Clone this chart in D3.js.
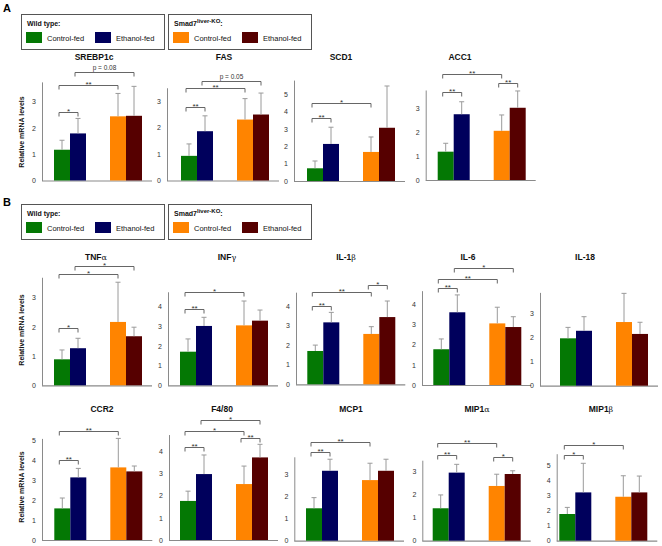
<!DOCTYPE html>
<html>
<head>
<meta charset="utf-8">
<script src="https://cdn.jsdelivr.net/npm/d3@7"></script>
<style>
  body { margin: 0; background: #fff; }
  text { font-family: "Liberation Sans", Arial, sans-serif; }
</style>
</head>
<body>
<script>
// genes, in drawing order (panel A: 4, panel B: 10)
const genes = ["SREBP1c", "FAS", "SCD1", "ACC1",
  "TNFα", "INFγ", "IL-1β", "IL-6", "IL-18",
  "CCR2", "F4/80", "MCP1", "MIP1α", "MIP1β"];

// bar order: WT control, WT ethanol, KO control, KO ethanol
const means = [
  [1.17, 1.79, 2.44, 2.46],
  [0.93, 1.86, 2.30, 2.49],
  [0.73, 2.13, 1.67, 3.06],
  [1.18, 2.74, 2.05, 3.01],
  [0.89, 1.27, 2.17, 1.68],
  [1.71, 3.02, 3.05, 3.29],
  [1.70, 3.16, 2.57, 3.43],
  [1.77, 3.60, 3.05, 2.87],
  [1.95, 2.26, 2.62, 2.13],
  [1.58, 3.13, 3.63, 3.43],
  [1.76, 2.97, 2.52, 3.72],
  [1.46, 3.15, 2.73, 3.15],
  [1.41, 2.96, 2.38, 2.90],
  [1.78, 3.22, 2.93, 3.22]
];
const sds = [
  [0.36, 0.57, 0.87, 1.12],
  [0.45, 0.58, 0.79, 0.81],
  [0.42, 0.96, 0.86, 2.40],
  [0.35, 0.52, 0.66, 0.70],
  [0.32, 0.34, 1.36, 0.31],
  [0.65, 0.44, 1.24, 0.54],
  [0.30, 0.51, 0.37, 0.82],
  [0.51, 0.86, 0.80, 0.51],
  [0.45, 0.58, 1.18, 0.48],
  [0.52, 0.45, 1.45, 0.27],
  [0.44, 0.86, 0.81, 0.59],
  [0.48, 0.52, 0.76, 0.52],
  [0.58, 0.36, 0.51, 0.14],
  [0.44, 1.94, 1.40, 1.09]
];
// y axis extent of every small chart
const yMax = [3.75, 3.5, 5.8, 3.75, 3.7, 4.76, 4.7, 4.67, 3.84, 5.08, 4.75, 3.78, 3.5, 5.8];

// significance brackets: [from bar, to bar, label, height in y units]
const brackets = [
  [[0, 1, "*", 2.62], [0, 2, "**", 3.63], [1, 3, "p = 0.08", 4.13]],
  [[0, 1, "**", 2.78], [0, 2, "**", 3.5], [1, 3, "p = 0.05", 3.75]],
  [[0, 1, "**", 3.64], [0, 2, "*", 4.47]],
  [[0, 1, "**", 3.68], [0, 2, "**", 4.4], [2, 3, "**", 4.03]],
  [[0, 1, "*", 1.95], [0, 2, "*", 3.8], [1, 3, "*", 4.09]],
  [[0, 1, "**", 3.87], [0, 2, "*", 4.73]],
  [[0, 1, "**", 4.01], [0, 2, "**", 4.69], [2, 3, "*", 5.05]],
  [[0, 1, "**", 4.79], [0, 2, "**", 5.25], [1, 3, "*", 5.78]],
  [],
  [[0, 1, "**", 4.0], [0, 2, "**", 5.45]],
  [[0, 1, "**", 4.18], [0, 2, "*", 4.91], [1, 3, "*", 5.41], [2, 3, "**", 4.61]],
  [[0, 1, "**", 3.98], [0, 2, "**", 4.46]],
  [[0, 1, "**", 3.73], [0, 2, "**", 4.26], [2, 3, "*", 3.65]],
  [[0, 1, "*", 5.71], [0, 2, "*", 6.38]]
];

const legendLabels = ["Control-fed", "Ethanol-fed", "Control-fed", "Ethanol-fed"];
const colors = ["#047804", "#00005c", "#ff8400", "#560000"];

// where each small chart sits on the page
const layout = [
  {ax: 42, bx: 54, base: 180.5, unit: 26.3, tx: 94, ty: 60},
  {ax: 167, bx: 181, base: 180.5, unit: 26.5, tx: 224, ty: 60},
  {ax: 294, bx: 307, base: 181, unit: 17.4, tx: 341, ty: 60},
  {ax: 425.7, bx: 437.7, base: 180, unit: 24, tx: 460, ty: 60},
  {ax: 42, bx: 54, base: 385.3, unit: 29.2, tx: 96, ty: 260},
  {ax: 168, bx: 180, base: 385.3, unit: 19.65, tx: 227, ty: 260},
  {ax: 296, bx: 307.3, base: 384.3, unit: 19.6, tx: 346, ty: 260},
  {ax: 422, bx: 433.3, base: 385, unit: 20.2, tx: 468, ty: 260},
  {ax: 540, bx: 560, base: 385.7, unit: 24.3, tx: 585, ty: 260},
  {ax: 42, bx: 54.3, base: 540, unit: 20, tx: 102, ty: 412},
  {ax: 169, bx: 180, base: 540, unit: 22.2, tx: 222, ty: 412},
  {ax: 294.3, bx: 306, base: 540.7, unit: 22.2, tx: 351, ty: 412},
  {ax: 422.3, bx: 432.7, base: 540.7, unit: 23, tx: 477, ty: 412},
  {ax: 556.7, bx: 559.3, base: 540.7, unit: 15, tx: 601, ty: 412}
];
const barPos = [0, 1, 3.5, 4.5];

const svg = d3.select("body").append("svg")
  .attr("width", 662).attr("height", 546);

// panel letters
svg.append("text").attr("x", 3).attr("y", 12).attr("font-size", 11).attr("font-weight", "bold").text("A");
svg.append("text").attr("x", 3).attr("y", 206).attr("font-size", 11).attr("font-weight", "bold").text("B");

// legends
function legend(top) {
  const g = svg.append("g").attr("transform", "translate(0," + top + ")");
  [21, 168].forEach((bx, b) => {
    g.append("rect").attr("x", bx + 0.5).attr("y", 0.5).attr("width", 143).attr("height", 35)
      .attr("fill", "#fff").attr("stroke", "#555");
    const head = g.append("text").attr("x", bx + 6).attr("y", 12).attr("font-size", 7)
      .attr("font-weight", "bold").attr("fill", "#111");
    if (b === 0) head.text("Wild type:");
    else {
      head.append("tspan").text("Smad7");
      head.append("tspan").attr("dy", -3).attr("font-size", 6).text("liver-KO");
      head.append("tspan").attr("dy", 3).text(":");
    }
    [0, 1].forEach(k => {
      const i = b * 2 + k;
      const sx = bx + 5 + k * 69;
      g.append("rect").attr("x", sx).attr("y", 18).attr("width", 16).attr("height", 11)
        .attr("fill", colors[i]);
      g.append("text").attr("x", sx + 21).attr("y", 26.5).attr("font-size", 7.5)
        .attr("fill", "#111").text(legendLabels[i]);
    });
  });
}
legend(14);
legend(204);

// y axis titles
[132, 330, 487].forEach(cy => {
  svg.append("text").attr("transform", "translate(24," + cy + ") rotate(-90)")
    .attr("text-anchor", "middle").attr("font-size", 7).attr("font-weight", "bold")
    .attr("fill", "#111").text("Relative mRNA levels");
});

genes.forEach((name, gi) => {
  const L = layout[gi];
  const g = svg.append("g");
  const y = d3.scaleLinear().domain([0, yMax[gi]]).range([L.base, L.base - yMax[gi] * L.unit]);
  const x = d3.scaleLinear().domain([-0.75, 6.125]).range([L.bx - 12, L.bx + 98]);
  const bw = x(1) - x(0);

  // title, greek suffix in plain weight
  const t = g.append("text").attr("x", L.tx).attr("y", L.ty).attr("text-anchor", "middle")
    .attr("font-size", 8.5).attr("fill", "#111");
  const last = name.slice(-1);
  if (/[αβγ]/.test(last)) {
    t.append("tspan").attr("font-weight", "bold").text(name.slice(0, -1));
    t.append("tspan").attr("font-family", "DejaVu Serif").attr("font-size", 8).text(last);
  } else {
    t.attr("font-weight", "bold").text(name);
  }

  // axes
  const ya = g.append("g").attr("transform", "translate(" + L.ax + ",0)")
    .call(d3.axisLeft(y).tickValues(d3.range(0, Math.floor(yMax[gi]) + 1))
      .tickSize(0).tickPadding(6).tickFormat(d3.format("d")));
  ya.select(".domain").attr("stroke", "#8a8a8a");
  ya.selectAll("text").attr("font-size", 7).attr("fill", "#333")
    .attr("font-family", "Liberation Sans, Arial, sans-serif");
  g.append("line").attr("x1", L.ax).attr("x2", x(6.125)).attr("y1", L.base + 0.5).attr("y2", L.base + 0.5)
    .attr("stroke", "#8a8a8a").attr("stroke-width", 1.2);

  // bars
  g.selectAll(".bar").data(means[gi]).enter().append("rect")
    .attr("class", "bar")
    .attr("x", (d, k) => x(barPos[k]))
    .attr("y", d => y(d))
    .attr("width", bw)
    .attr("height", d => L.base - y(d))
    .attr("fill", (d, k) => colors[k]);

  // error bars (upper only)
  means[gi].forEach((m, k) => {
    const cx = x(barPos[k]) + bw / 2;
    const top = y(m + sds[gi][k]);
    g.append("line").attr("x1", cx).attr("x2", cx).attr("y1", y(m)).attr("y2", top)
      .attr("stroke", "#9a9a9a").attr("stroke-width", 1);
    g.append("line").attr("x1", cx - 2.5).attr("x2", cx + 2.5).attr("y1", top).attr("y2", top)
      .attr("stroke", "#9a9a9a").attr("stroke-width", 1);
  });

  // brackets
  brackets[gi].forEach(([a, b, lab, lv]) => {
    const xl = x(barPos[a]) + bw / 2 - 3;
    const xr = x(barPos[b]) + bw / 2;
    const yb = Math.round(y(lv)) + 0.5;
    g.append("path").attr("d", "M" + xl + "," + (yb + 4) + "V" + yb + "H" + xr + "V" + (yb + 4))
      .attr("fill", "none").attr("stroke", "#666").attr("stroke-width", 1);
    const isP = lab.startsWith("p");
    g.append("text").attr("x", (xl + xr) / 2).attr("y", isP ? yb - 2.5 : yb + 1)
      .attr("text-anchor", "middle").attr("font-size", isP ? 6.5 : 8)
      .attr("fill", "#333").text(lab);
  });
});
</script>
</body>
</html>
